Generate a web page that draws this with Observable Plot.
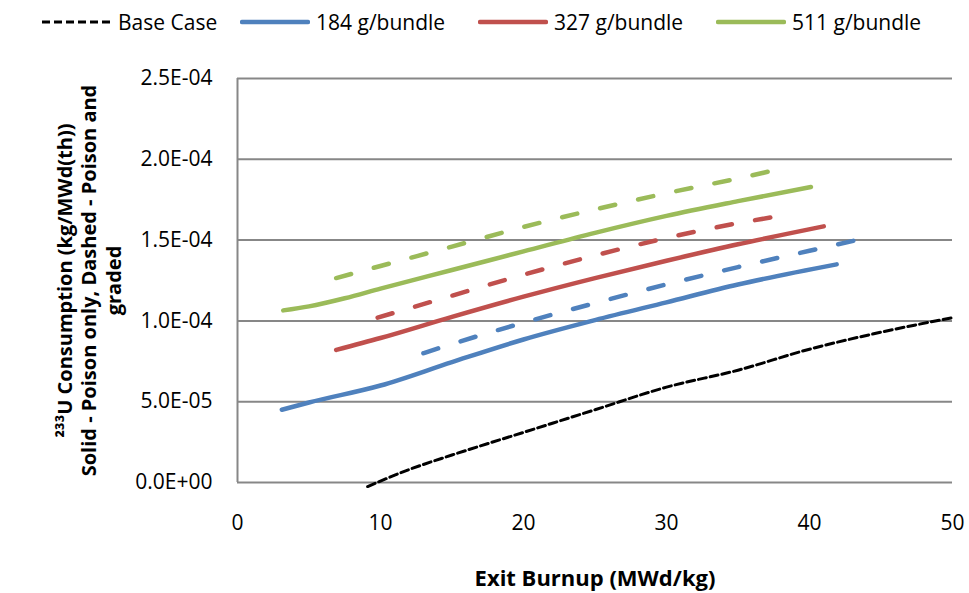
<!DOCTYPE html>
<html>
<head>
<meta charset="utf-8">
<script src="https://cdn.jsdelivr.net/npm/d3@7"></script>
<script src="https://cdn.jsdelivr.net/npm/@observablehq/plot@0.6"></script>
<style>
  body { margin: 0; background: #fff; font-family: "Open Sans", sans-serif; }
  #legend { position: relative; width: 969px; height: 44px; font-size: 21px; color: #000; }
  #legend .item { position: absolute; top: 0; height: 44px; display: flex; align-items: center; white-space: nowrap; }
  #legend svg { margin-right: 6px; }
</style>
</head>
<body>
<div id="legend"></div>
<div id="chart"></div>
<script>
// Exit burnup (MWd/kg) and U-233 consumption (kg/MWd(th)) for each case
const baseBurnup = [9.1, 12, 15, 20, 25, 30, 35, 40, 45, 50];
const baseConsumption = [-0.25e-5, 0.8e-5, 1.7e-5, 3.1e-5, 4.5e-5, 5.9e-5, 6.95e-5, 8.25e-5, 9.3e-5, 1.02e-4];

const b184PoisonBurnup = [3.1, 5, 10, 15, 20, 25, 30, 35, 41.9];
const b184PoisonConsumption = [4.5e-5, 4.95e-5, 6.0e-5, 7.45e-5, 8.85e-5, 10.05e-5, 11.15e-5, 12.25e-5, 13.5e-5];
const b184GradedBurnup = [13.0, 15, 20, 25, 30, 35, 40, 43.3];
const b184GradedConsumption = [8.0e-5, 8.57e-5, 9.89e-5, 11.1e-5, 12.26e-5, 13.33e-5, 14.34e-5, 15.0e-5];

const b327PoisonBurnup = [6.9, 10, 15, 20, 25, 30, 35, 41.0];
const b327PoisonConsumption = [8.2e-5, 8.94e-5, 10.25e-5, 11.5e-5, 12.65e-5, 13.72e-5, 14.74e-5, 15.85e-5];
const b327GradedBurnup = [9.8, 15, 20, 25, 30, 35, 38.5];
const b327GradedConsumption = [10.2e-5, 11.56e-5, 12.86e-5, 14.05e-5, 15.13e-5, 16.05e-5, 16.57e-5];

const b511PoisonBurnup = [3.2, 5, 7.5, 10, 15, 20, 25, 30, 35, 40.1];
const b511PoisonConsumption = [10.65e-5, 10.9e-5, 11.4e-5, 12.0e-5, 13.15e-5, 14.3e-5, 15.45e-5, 16.5e-5, 17.41e-5, 18.29e-5];
const b511GradedBurnup = [6.9, 10, 15, 20, 25, 30, 35, 38.4];
const b511GradedConsumption = [12.65e-5, 13.4e-5, 14.6e-5, 15.81e-5, 16.9e-5, 17.9e-5, 18.82e-5, 19.49e-5];

const legendNames = ["Base Case", "184 g/bundle", "327 g/bundle", "511 g/bundle"];
const legendColors = ["#000000", "#4f81bd", "#c0504d", "#9bbb59"];

const xTicks = [0, 10, 20, 30, 40, 50];
const yTicks = [0, 5e-5, 1e-4, 1.5e-4, 2e-4, 2.5e-4];

const xTitle = "Exit Burnup (MWd/kg)";
const yTitle = "\u00b2\u00b3\u00b3U Consumption (kg/MWd(th))\nSolid - Poison only, Dashed - Poison and\ngraded";

const toRows = (xs, ys) => xs.map((x, i) => ({x, y: ys[i]}));

// Excel-style scientific labels: 2.5E-04
function sci(d) {
  const [m, e] = d.toExponential(1).split("e");
  const sign = e[0] === "-" ? "-" : "+";
  const digits = e.replace(/[+-]/, "").padStart(2, "0");
  return `${m}E${sign}${digits}`;
}

// Legend
const legendLeft = [42, 240, 478, 716];
const legend = document.getElementById("legend");
legendNames.forEach((name, i) => {
  const item = document.createElement("div");
  item.className = "item";
  item.style.left = legendLeft[i] + "px";
  const dashed = i === 0;
  item.innerHTML =
    `<svg width="70" height="10"><line x1="${dashed ? 0 : 2}" y1="5" x2="${dashed ? 70 : 68}" y2="5" stroke="${legendColors[i]}" ` +
    `stroke-width="${dashed ? 3 : 4.5}" stroke-linecap="${dashed ? "butt" : "round"}" ${dashed ? 'stroke-dasharray="8,4"' : ""}/></svg>` +
    `<span>${name}</span>`;
  legend.appendChild(item);
});

const solid = (xs, ys, color) => Plot.line(toRows(xs, ys), {
  x: "x", y: "y", stroke: color, strokeWidth: 4.5, strokeLinecap: "round", strokeLinejoin: "round", curve: "monotone-x"
});
const dashed = (xs, ys, color) => Plot.line(toRows(xs, ys), {
  x: "x", y: "y", stroke: color, strokeWidth: 4.5, strokeLinecap: "round", strokeLinejoin: "round",
  strokeDasharray: "15.5,23.5", curve: "monotone-x"
});

const chart = Plot.plot({
  width: 969,
  height: 549,
  marginLeft: 237,
  marginRight: 17,
  marginTop: 34,
  marginBottom: 111,
  style: {fontFamily: "Open Sans, sans-serif", fontSize: "21px", color: "#000", background: "#fff"},
  x: {domain: [0, 50], ticks: xTicks, tickFormat: d => String(d), tickSize: 0, tickPadding: 33, label: null},
  y: {domain: [0, 2.5e-4], ticks: yTicks, tickFormat: sci, tickSize: 0, tickPadding: 25, label: null},
  marks: [
    Plot.ruleY(yTicks, {stroke: "#878787", strokeWidth: 2}),
    Plot.ruleX([0], {stroke: "#878787", strokeWidth: 2}),
    Plot.line(toRows(baseBurnup, baseConsumption), {
      x: "x", y: "y", stroke: "#000", strokeWidth: 3, strokeDasharray: "8,4", curve: "monotone-x"
    }),
    solid(b184PoisonBurnup, b184PoisonConsumption, legendColors[1]),
    dashed(b184GradedBurnup, b184GradedConsumption, legendColors[1]),
    solid(b327PoisonBurnup, b327PoisonConsumption, legendColors[2]),
    dashed(b327GradedBurnup, b327GradedConsumption, legendColors[2]),
    solid(b511PoisonBurnup, b511PoisonConsumption, legendColors[3]),
    dashed(b511GradedBurnup, b511GradedConsumption, legendColors[3]),
    Plot.text([yTitle], {
      frameAnchor: "left", rotate: -90, dx: -149, fontSize: 20, fontWeight: "bold",
      lineHeight: 1.22, lineAnchor: "middle", textAnchor: "middle", fill: "#000"
    }),
    Plot.text([xTitle], {
      frameAnchor: "bottom", dy: 96, fontSize: 22, fontWeight: "bold",
      lineAnchor: "middle", textAnchor: "middle", fill: "#000"
    })
  ]
});
document.getElementById("chart").appendChild(chart);
</script>
</body>
</html>
